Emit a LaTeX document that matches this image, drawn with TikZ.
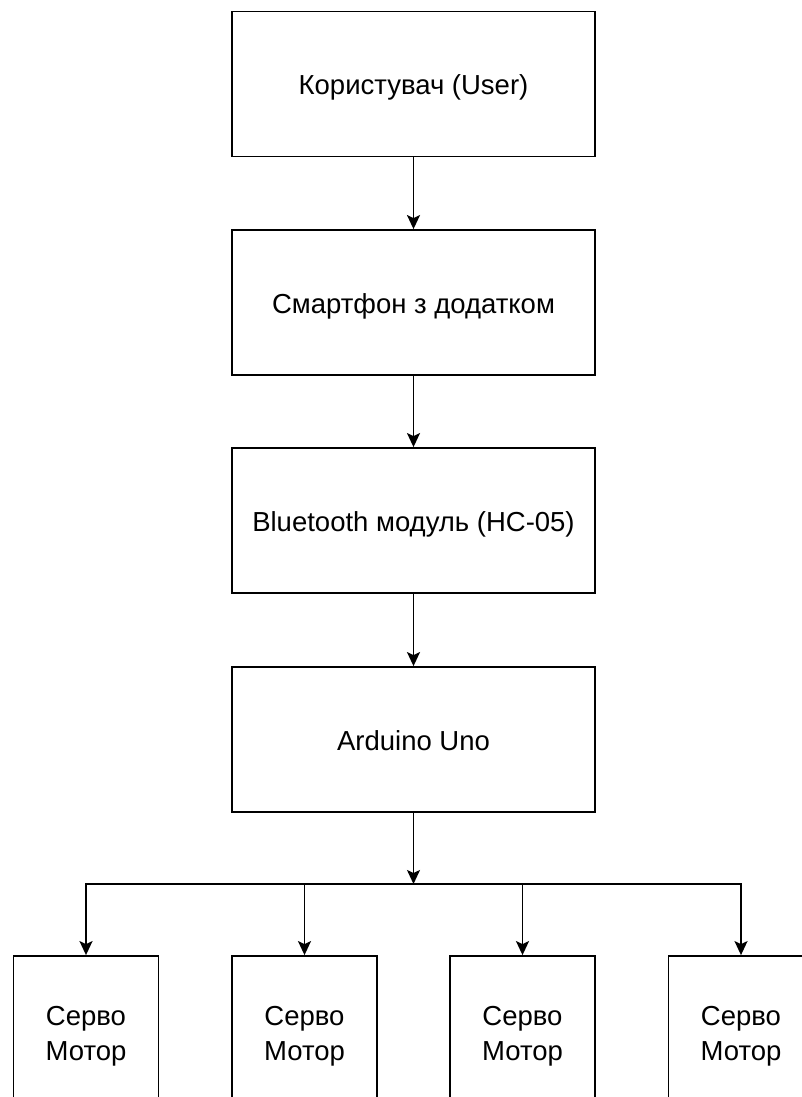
\documentclass[tikz,border=0pt]{standalone}
\usepackage{fontspec}
\setmainfont{Liberation Sans}
\usetikzlibrary{arrows.meta}
\tikzset{
  box/.style={draw=black, line width=1.8pt, minimum width=363pt, minimum height=145pt, inner sep=0pt, text height=28pt, text depth=6pt, align=center, font=\fontsize{27.5pt}{34pt}\selectfont},
  motorbox/.style={draw=black, line width=1.8pt, minimum width=145pt, minimum height=160pt, inner sep=0pt, align=center, font=\fontsize{27.5pt}{35pt}\selectfont},
  arr/.style={line width=1.8pt, -{Stealth[length=14pt, width=13pt, inset=3pt]}},
}
\begin{document}
\begin{tikzpicture}[x=1pt, y=-1pt]
\useasboundingbox (0,0) rectangle (802,1097);
\clip (0,0) rectangle (802,1097);
\fill[white] (0,0) rectangle (802,1097);
\node[box] (user) at (413.5,84) {Користувач (User)};
\node[box] (phone) at (413.5,302.5) {Смартфон з додатком};
\node[box] (bt) at (413.5,520.5) {Bluetooth модуль (HC-05)};
\node[box] (ard) at (413.5,739.5) {Arduino Uno};
\node[motorbox] (m1) at (86,1036) {Серво\\Мотор};
\node[motorbox] (m2) at (304.5,1036) {Серво\\Мотор};
\node[motorbox] (m3) at (522.5,1036) {Серво\\Мотор};
\node[motorbox] (m4) at (741,1036) {Серво\\Мотор};
\coordinate (bus) at (413.5,884);
\draw[arr] (user) -- (phone);
\draw[arr] (phone) -- (bt);
\draw[arr] (bt) -- (ard);
\draw[arr] (ard) -- (bus);
\draw[arr] (bus) -| (m1.north);
\draw[arr] (bus) -| (m2.north);
\draw[arr] (bus) -| (m3.north);
\draw[arr] (bus) -| (m4.north);
\end{tikzpicture}
\end{document}
